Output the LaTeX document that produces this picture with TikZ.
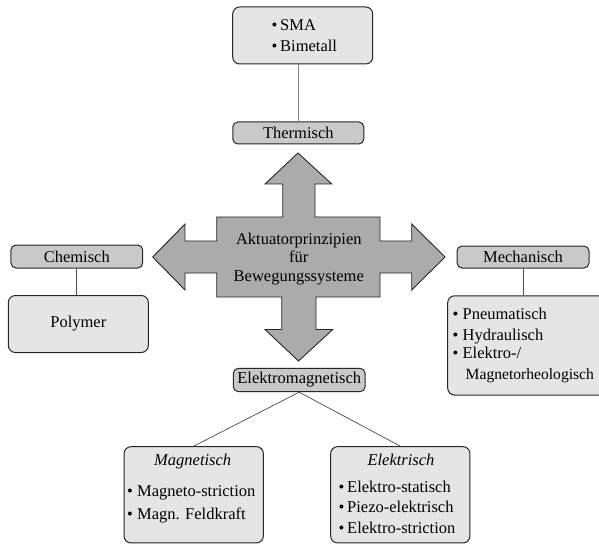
\documentclass[tikz,border=0pt]{standalone}
\usepackage{fontspec}
\setmainfont{Liberation Serif}
\begin{document}
\begin{tikzpicture}[x=1pt,y=-1pt,
  every node/.style={font=\fontsize{16.5}{18.5}\selectfont},
  headbox/.style={draw=black!85,line width=1pt,rounded corners=5pt,fill=black!21,
    inner sep=0pt},
  listbox/.style={draw=black!85,line width=1pt,rounded corners=7pt,fill=black!10,
    inner sep=0pt},
  item/.style={anchor=base west,inner sep=0pt},
  link/.style={draw=black!70,line width=0.7pt},
  crossfill/.style={fill=black!33,draw=black!85,line width=0.9pt,line join=miter}]
\useasboundingbox (0,0) rectangle (599,545);
\clip (0,0) rectangle (599,545);

% central four-way arrow
\draw[crossfill] (298,153) -- (331.7,184) -- (315,184) -- (315,217) -- (380,217)
  -- (380,241) -- (411.7,241) -- (411.7,224) -- (445,257) -- (411.7,290)
  -- (411.7,273) -- (380,273) -- (380,297) -- (316,297) -- (316,329.5)
  -- (332.7,329.5) -- (298.5,361) -- (265,329.5) -- (281.7,329.5) -- (281.7,297)
  -- (216.7,297) -- (216.7,273) -- (185,273) -- (185,290) -- (152.7,257)
  -- (185,224) -- (185,241) -- (216.7,241) -- (216.7,217) -- (282.7,217)
  -- (282.7,184) -- (265,184) -- cycle;
\node[align=center,inner sep=0pt] (core) at (298.8,259)
  {Aktuatorprinzipien\\für\\Bewegungssysteme};

% thermal branch
\node[listbox,minimum width=140pt,minimum height=57pt] (thermlist) at (302.7,35.5) {};
\node[item] (t1) at (271.5,30.5) {\textbullet\,SMA};
\node[item] (t2) at (271.5,51.5) {\textbullet\,Bimetall};
\node[headbox,minimum width=131pt,minimum height=22pt] (therm) at (298.3,133) {Thermisch};
\draw[link,draw=black!50] (therm.north) -- (therm.north |- thermlist.south);

% chemical branch
\node[headbox,minimum width=131.7pt,minimum height=23pt] (chem) at (76.8,256.5) {Chemisch};
\node[listbox,minimum width=140pt,minimum height=57pt] (poly) at (78.3,324) {Polymer};
\draw[link] (chem.south) -- (chem.south |- poly.north);

% mechanical branch
\node[headbox,minimum width=132pt,minimum height=22pt] (mech) at (523,257) {Mechanisch};
\node[listbox,minimum width=165pt,minimum height=99.3pt] (mechlist) at (530.2,345.4) {};
\node[item] (m1) at (452.5,319.5) {\textbullet~Pneumatisch};
\node[item] (m2) at (452.5,340.5) {\textbullet~Hydraulisch};
\node[item] (m3) at (452.5,358) {\textbullet~Elektro-/};
\node[item,font=\fontsize{15.6}{18.5}\selectfont] (m4) at (465.5,379) {Magnetorheologisch};
\draw[link] (mech.south) -- (mech.south |- mechlist.north);

% electromagnetic branch
\node[headbox,minimum width=131.7pt,minimum height=23.4pt] (em) at (299.2,380) {Elektromagnetisch};
\node[listbox,minimum width=139.3pt,minimum height=96.3pt] (mag) at (193.7,494.8) {};
\node[listbox,minimum width=139.3pt,minimum height=96.3pt] (el) at (400.3,494.8) {};
\draw[link] (em.south) -- (mag.north);
\draw[link] (em.south) -- (el.north);

\node[anchor=base,inner sep=0pt] (magt) at (192.7,465) {\itshape Magnetisch};
\node[item] (g1) at (127,496) {\textbullet~Magneto-striction};
\node[item] (g2) at (127,519) {\textbullet~Magn. Feldkraft};

\node[anchor=base,inner sep=0pt] (elt) at (401,465) {\itshape Elektrisch};
\node[item] (e1) at (338.5,492) {\textbullet\,Elektro-statisch};
\node[item] (e2) at (338.5,512.5) {\textbullet\,Piezo-elektrisch};
\node[item] (e3) at (338.5,533) {\textbullet\,Elektro-striction};
\end{tikzpicture}
\end{document}
